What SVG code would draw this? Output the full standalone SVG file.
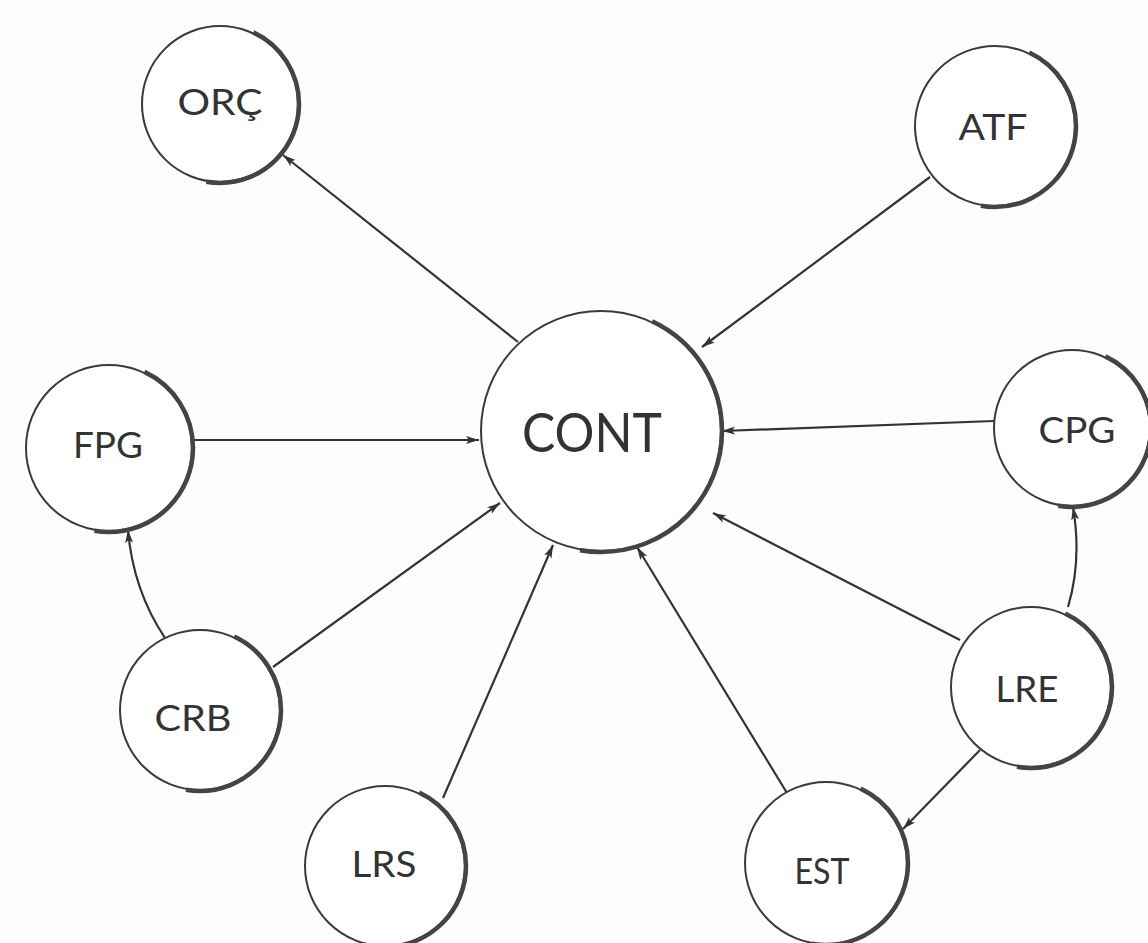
<svg xmlns="http://www.w3.org/2000/svg" width="1148" height="943" viewBox="0 0 1148 943">
<style>
.bg{fill:#fdfdfd}
.node circle.ring{fill:#ffffff;stroke:#3a3a3a;stroke-width:2}
.node circle.shade{fill:none;stroke:#444;stroke-width:4.5;stroke-dasharray:165 195;stroke-dashoffset:65}
.node text{font-family:"Lato","Liberation Sans",sans-serif;fill:#333;text-anchor:middle;font-size:37px}
.node text.big{font-size:54px}
.edges path{fill:none;stroke:#333;stroke-width:2.2;marker-end:url(#ah)}
</style>
<defs>
<marker id="ah" markerUnits="userSpaceOnUse" markerWidth="16" markerHeight="10" refX="13" refY="4.5" orient="auto">
<path d="M0,0.5 L13,4.5 L0,8.5 L3,4.5 z" fill="#333"/>
</marker>
</defs>
<rect class="bg" x="0" y="0" width="1148" height="943"/>
<g class="edges" id="connectors">
<path d="M518,342 L283,155"/>
<path d="M930,177 L702,347"/>
<path d="M192,440 L479,440"/>
<path d="M994,421 L722,431"/>
<path d="M273,667 L500,503"/>
<path d="M443,798 L553,545"/>
<path d="M787,793 L637,547"/>
<path d="M960,640 L713,513"/>
<path d="M980,750 L903,829"/>
<path d="M1068,607 Q1082,560 1073,507"/>
<path d="M165,638 Q133,590 128,530"/>
</g>
<g class="node" id="node-orc"><circle class="ring" cx="220" cy="104" r="78"/><circle class="shade" cx="220" cy="104" r="79" pathLength="360"/><text x="220" y="115" textLength="85" lengthAdjust="spacingAndGlyphs">ORÇ</text></g>
<g class="node" id="node-atf"><circle class="ring" cx="995" cy="126" r="80"/><circle class="shade" cx="995" cy="126" r="81" pathLength="360"/><text x="993" y="140" textLength="69" lengthAdjust="spacingAndGlyphs">ATF</text></g>
<g class="node" id="node-cont"><circle class="ring" cx="601" cy="431" r="120"/><circle class="shade" cx="601" cy="431" r="121" pathLength="360"/><text class="big" x="592" y="452" textLength="140" lengthAdjust="spacingAndGlyphs">CONT</text></g>
<g class="node" id="node-fpg"><circle class="ring" cx="109" cy="448" r="83"/><circle class="shade" cx="109" cy="448" r="84" pathLength="360"/><text x="108" y="458" textLength="70" lengthAdjust="spacingAndGlyphs">FPG</text></g>
<g class="node" id="node-cpg"><circle class="ring" cx="1072" cy="428" r="78"/><circle class="shade" cx="1072" cy="428" r="79" pathLength="360"/><text x="1077" y="443" textLength="77" lengthAdjust="spacingAndGlyphs">CPG</text></g>
<g class="node" id="node-crb"><circle class="ring" cx="200" cy="710" r="80"/><circle class="shade" cx="200" cy="710" r="81" pathLength="360"/><text x="193" y="731" textLength="77" lengthAdjust="spacingAndGlyphs">CRB</text></g>
<g class="node" id="node-lre"><circle class="ring" cx="1031" cy="687" r="80"/><circle class="shade" cx="1031" cy="687" r="81" pathLength="360"/><text x="1027" y="702" textLength="63" lengthAdjust="spacingAndGlyphs">LRE</text></g>
<g class="node" id="node-lrs"><circle class="ring" cx="385" cy="866" r="80"/><circle class="shade" cx="385" cy="866" r="81" pathLength="360"/><text x="384" y="877" textLength="65" lengthAdjust="spacingAndGlyphs">LRS</text></g>
<g class="node" id="node-est"><circle class="ring" cx="826" cy="863" r="81"/><circle class="shade" cx="826" cy="863" r="82" pathLength="360"/><text x="822" y="884" textLength="55" lengthAdjust="spacingAndGlyphs">EST</text></g>
</svg>
